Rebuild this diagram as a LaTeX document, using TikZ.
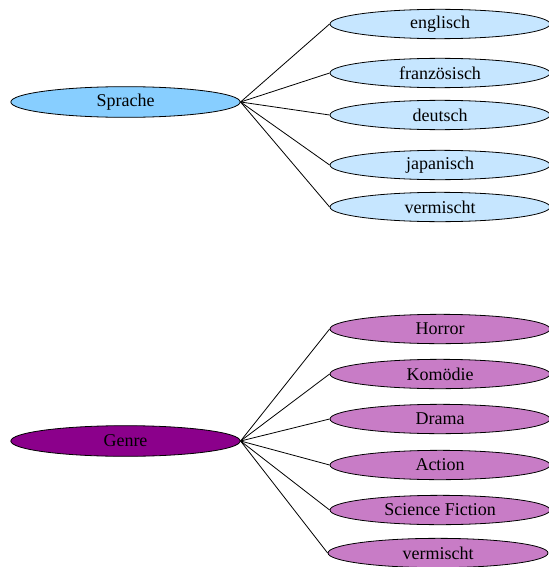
\documentclass[tikz,border=0pt]{standalone}
\usepackage{fontspec}
\setmainfont{Liberation Serif}
\usetikzlibrary{shapes.geometric}

\definecolor{sprachecol}{RGB}{135,206,255}
\definecolor{spracheleaf}{RGB}{198,230,255}
\definecolor{genrecol}{RGB}{139,0,139}
\definecolor{genreleaf}{RGB}{200,124,198}

\begin{document}
\begin{tikzpicture}[x=0.75pt, y=-0.75pt, line width=0.6pt,
		main/.style={draw, ellipse, inner sep=0pt, minimum width=172pt, minimum height=23pt, font=\fontsize{13.5}{16}\selectfont},
		leaf/.style={main, minimum width=165pt, minimum height=22pt}]
		\useasboundingbox (0,0) rectangle (549,567);
		
		% Sprache
		\node[main, fill=sprachecol] (sprache) at (125.5,102) {Sprache};
		\node[leaf, fill=spracheleaf] (s1) at (440,24) {englisch};
		\node[leaf, fill=spracheleaf] (s2) at (440,73) {französisch};
		\node[leaf, fill=spracheleaf] (s3) at (440,115) {deutsch};
		\node[leaf, fill=spracheleaf] (s4) at (440,165) {japanisch};
		\node[leaf, fill=spracheleaf] (s5) at (440,207) {vermischt};
		
		\draw (sprache.east) -- (s1.west);
		\draw (sprache.east) -- (s2.west);
		\draw (sprache.east) -- (s3.west);
		\draw (sprache.east) -- (s4.west);
		\draw (sprache.east) -- (s5.west);
		
		% Genre
		\node[main, fill=genrecol] (genre) at (125.5,441) {Genre};
		\node[leaf, fill=genreleaf] (g1) at (440,329) {Horror};
		\node[leaf, fill=genreleaf] (g2) at (440,374) {Komödie};
		\node[leaf, fill=genreleaf] (g3) at (440,419) {Drama};
		\node[leaf, fill=genreleaf] (g4) at (440,465) {Action};
		\node[leaf, fill=genreleaf] (g5) at (440,510) {Science Fiction};
		\node[leaf, fill=genreleaf] (g6) at (438,553) {vermischt};
		
		\draw (genre.east) -- (g1.west);
		\draw (genre.east) -- (g2.west);
		\draw (genre.east) -- (g3.west);
		\draw (genre.east) -- (g4.west);
		\draw (genre.east) -- (g5.west);
		\draw (genre.east) -- (g6.west);
	\end{tikzpicture}
\end{document}
